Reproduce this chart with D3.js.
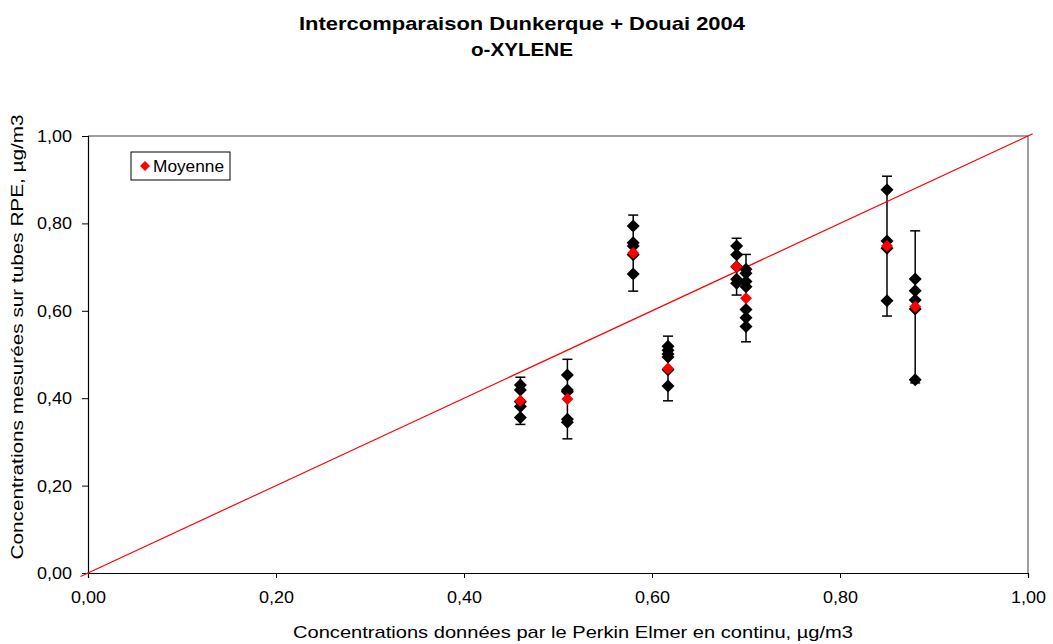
<!DOCTYPE html>
<html>
<head>
<meta charset="utf-8">
<script src="https://cdn.jsdelivr.net/npm/d3@7"></script>
<style>
  html, body { margin: 0; padding: 0; background: #fff; }
  svg { display: block; font-family: "Liberation Sans", Arial, sans-serif; }
</style>
</head>
<body>
<svg id="chart" width="1053" height="644"></svg>
<script>
// Perkin Elmer reference concentration for each campaign (µg/m3)
const perkinElmer = [0.46, 0.51, 0.58, 0.617, 0.69, 0.70, 0.85, 0.88];

// Individual RPE tube results for each campaign (µg/m3)
const tubes = [
  [0.430, 0.419, 0.392, 0.381, 0.356],
  [0.453, 0.419, 0.415, 0.352, 0.345],
  [0.794, 0.756, 0.748, 0.728, 0.684],
  [0.519, 0.510, 0.501, 0.494, 0.465, 0.428],
  [0.748, 0.728, 0.701, 0.672, 0.663],
  [0.695, 0.686, 0.667, 0.655, 0.603, 0.584, 0.564],
  [0.877, 0.760, 0.743, 0.623],
  [0.673, 0.646, 0.625, 0.604, 0.442]
];

// Mean of the tubes and half-width of the error bar
const moyenne = [0.394, 0.398, 0.732, 0.468, 0.701, 0.629, 0.748, 0.609];
const ecart = [0.054, 0.091, 0.087, 0.074, 0.065, 0.100, 0.160, 0.174];

// y = x reference line end points
const diagonal = [-0.008, 1.005];

const ticks = [0, 0.2, 0.4, 0.6, 0.8, 1.0];
const titleLines = ["Intercomparaison Dunkerque + Douai 2004", "o-XYLENE"];
const xTitle = "Concentrations données par le Perkin Elmer en continu, µg/m3";
const yTitle = "Concentrations mesurées sur tubes RPE, µg/m3";
const legendLabel = "Moyenne";

const svg = d3.select("#chart");
const margin = { left: 88, right: 25, top: 136, bottom: 71 };
const W = 1053, H = 644;

const x = d3.scaleLinear().domain([0, 1]).range([margin.left, W - margin.right]);
const y = d3.scaleLinear().domain([0, 1]).range([H - margin.bottom, margin.top]);

const fmt = d => d3.format(".2f")(d).replace(".", ",");

// Wide, GDI-like text: stretch a text element to a given length
const stretch = (sel, len) => sel.attr("textLength", len).attr("lengthAdjust", "spacingAndGlyphs");

// Title
svg.append("g").selectAll("text").data(titleLines).join("text")
  .attr("x", 522).attr("y", (d, i) => 30 + i * 26)
  .attr("text-anchor", "middle")
  .attr("font-weight", "bold").attr("font-size", 19)
  .attr("textLength", (d, i) => i === 0 ? 446 : 102)
  .attr("lengthAdjust", "spacingAndGlyphs")
  .text(d => d);

// Plot frame: top and right in grey
svg.append("path")
  .attr("d", `M${x(0)},${y(1)}H${x(1)}V${y(0)}`)
  .attr("fill", "none").attr("stroke", "#808080").attr("stroke-width", 1.5);

// Axes
const xAxis = svg.append("g")
  .attr("transform", `translate(0,${y(0)})`)
  .call(d3.axisBottom(x).tickValues(ticks).tickFormat(fmt).tickSize(5).tickPadding(13));
const yAxis = svg.append("g")
  .attr("transform", `translate(${x(0)},0)`)
  .call(d3.axisLeft(y).tickValues(ticks).tickFormat(fmt).tickSize(6).tickPadding(10));
[xAxis, yAxis].forEach(a => {
  a.select(".domain").attr("stroke", "#000").attr("stroke-width", 1.2);
  a.selectAll(".tick line").attr("stroke", "#000");
  a.selectAll("text").attr("font-size", 17).attr("fill", "#000")
    .attr("font-family", "Liberation Sans, Arial, sans-serif")
    .call(stretch, 35);
});

// Axis titles
svg.append("text")
  .attr("x", 573).attr("y", 638)
  .attr("text-anchor", "middle").attr("font-size", 17)
  .call(stretch, 560)
  .text(xTitle);
svg.append("text")
  .attr("transform", `translate(23,337) rotate(-90)`)
  .attr("text-anchor", "middle").attr("font-size", 17)
  .call(stretch, 445)
  .text(yTitle);

// Error bars around the means
const bars = svg.append("g").selectAll("g").data(perkinElmer).join("g");
bars.append("line")
  .attr("x1", d => x(d)).attr("x2", d => x(d))
  .attr("y1", (d, i) => y(moyenne[i] + ecart[i]))
  .attr("y2", (d, i) => y(moyenne[i] - ecart[i]))
  .attr("stroke", "#000").attr("stroke-width", 1.5);
[1, -1].forEach(s => {
  bars.append("line")
    .attr("x1", d => x(d) - 5).attr("x2", d => x(d) + 5)
    .attr("y1", (d, i) => y(moyenne[i] + s * ecart[i]))
    .attr("y2", (d, i) => y(moyenne[i] + s * ecart[i]))
    .attr("stroke", "#000").attr("stroke-width", 1.5);
});

// y = x line
svg.append("line")
  .attr("x1", x(diagonal[0])).attr("y1", y(diagonal[0]))
  .attr("x2", x(diagonal[1])).attr("y2", y(diagonal[1]))
  .attr("stroke", "#ff0000").attr("stroke-width", 1.2);

const diamond = (hw, hh) => `M0,${-hh}L${hw},0L0,${hh}L${-hw},0Z`;

// Individual tube points
const tubePts = perkinElmer.flatMap((px, i) => tubes[i].map(v => ({ px, v })));
svg.append("g").selectAll("path").data(tubePts).join("path")
  .attr("transform", d => `translate(${x(d.px)},${y(d.v)})`)
  .attr("d", diamond(6.5, 6.5)).attr("fill", "#000");

// Means
svg.append("g").selectAll("path").data(perkinElmer).join("path")
  .attr("transform", (d, i) => `translate(${x(d)},${y(moyenne[i])})`)
  .attr("d", diamond(6, 6)).attr("fill", "#ff0000");

// Legend
const leg = svg.append("g").attr("transform", "translate(131,152)");
leg.append("rect").attr("width", 99).attr("height", 28)
  .attr("fill", "#fff").attr("stroke", "#000").attr("stroke-width", 1);
leg.append("path").attr("transform", "translate(14,14)")
  .attr("d", diamond(5, 5)).attr("fill", "#ff0000");
leg.append("text").attr("x", 22).attr("y", 19.5)
  .attr("font-size", 16).call(stretch, 71).text(legendLabel);
</script>
</body>
</html>
